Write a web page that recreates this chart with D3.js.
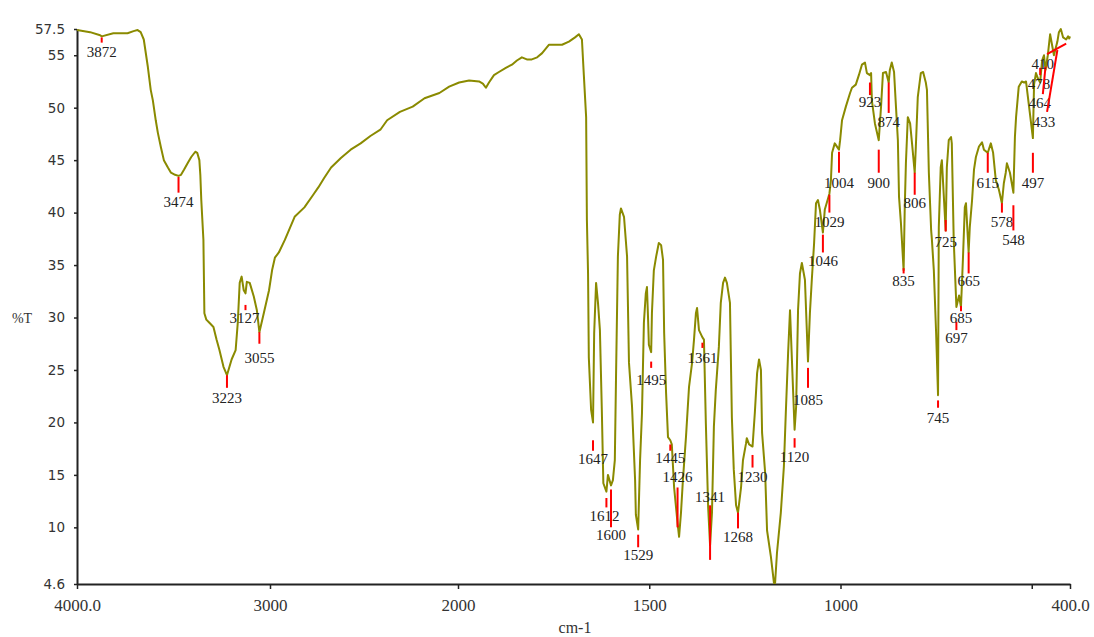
<!DOCTYPE html>
<html><head><meta charset="utf-8">
<script src="https://cdn.jsdelivr.net/npm/d3@7"></script>
<style>body{margin:0;background:#fff}svg{display:block}</style>
</head><body><svg id="c" width="1094" height="637"></svg>
<script>
// Spectrum: wavenumber (cm-1) and %T
const wavenumbers = [
4000,3932,3880,3872,3812,3738,3707,3686,3670,3654,3633,3618,3607,3592,3581,3565,3550,3529,3513,3492,
3474,3461,3445,3424,3408,3387,3377,3366,3361,3356,3345,3340,3330,3314,3293,3277,3262,3241,3223,3199,
3178,3167,3157,3147,3136,3127,3120,3105,3084,3068,3055,3031,3005,2989,2974,2953,2921,2895,2869,2817,
2770,2743,2712,2675,2623,2571,2518,2466,2413,2377,2309,2241,2178,2099,2047,
1997,1971,1945,1935,1927,1919,1906,1893,1875,1859,1846,1833,1820,1807,1793,1780,1762,1744,1728,1710,
1694,1684,1676,1671,1665,1663,1660,1658,1652,1647,1644,1639,1634,1629,1624,1620,1612,1608,1600,1595,
1590,1587,1582,1577,1574,1566,1558,1553,1545,1537,1535,1529,1524,1519,1514,1509,1506,1503,1501,1495,
1493,1488,1482,1475,1469,1464,1461,1456,1451,1445,1441,1435,1426,1422,1417,1412,1404,1396,1388,1383,
1378,1375,1370,1361,1357,1352,1346,1341,1336,1331,1326,1318,1313,1307,1302,1297,1289,1284,1279,1273,
1268,1260,1255,1247,1245,1239,1230,1224,1218,1213,1208,1205,1197,1192,1182,1174,1171,1166,1156,1148,
1143,1137,1132,1130,1120,1116,1111,1106,1101,1093,1085,1080,1075,1069,1064,1059,1054,1046,1041,1029,
1025,1022,1015,1004,1001,996,986,975,970,960,952,944,936,931,923,920,918,910,900,894,
889,881,874,871,866,860,855,850,847,842,835,832,829,824,818,813,806,803,798,790,
784,777,774,769,763,761,756,750,745,743,738,735,725,722,717,711,709,704,697,690,
685,680,675,672,665,662,656,651,646,638,630,625,615,607,601,594,586,578,573,568,
565,557,548,544,541,534,526,520,515,507,497,494,489,484,478,473,468,464,458,452,
447,442,433,429,424,418,410,405,402,400];
const transmittance = [
57.4,57.2,56.9,56.8,57.1,57.1,57.3,57.4,57.2,56.5,53.9,51.7,50.7,48.8,47.6,46.2,45.0,44.3,43.8,43.6,
43.5,43.6,44.1,44.8,45.3,45.8,45.7,45.0,43.6,41.2,37.4,30.4,29.8,29.5,29.1,27.9,26.9,25.3,24.5,26.0,
26.9,29.5,33.3,33.9,32.6,32.3,33.4,33.3,32.0,30.7,28.6,30.5,32.6,34.5,35.7,36.2,37.4,38.5,39.6,40.5,
41.7,42.4,43.3,44.3,45.2,46.0,46.6,47.3,47.9,48.8,49.6,50.1,50.9,51.4,52.0,
52.4,52.6,52.5,52.3,51.9,52.4,53.1,53.4,53.8,54.1,54.5,54.8,54.6,54.6,54.8,55.2,56.0,56.0,56.0,56.3,
56.7,57.0,56.5,53.1,49.1,39.3,34.2,26.2,21.2,20.0,28.5,33.3,31.4,28.8,21.2,14.2,13.4,15.0,14.0,14.5,
16.4,24.0,35.8,39.8,40.4,39.6,35.8,25.7,21.5,14.5,11.2,9.8,16.4,20.9,29.5,32.3,32.9,29.8,27.4,26.7,
30.4,34.5,35.8,37.1,36.9,35.5,28.5,22.8,18.6,18.3,17.9,13.8,10.4,9.1,11.4,14.5,18.6,23.4,25.7,27.9,
30.4,30.9,28.8,28.1,27.9,19.9,11.9,8.3,11.4,19.6,23.1,27.2,31.4,33.3,33.8,33.3,31.4,20.5,15.5,12.1,
11.4,13.8,16.4,18.0,18.5,17.9,17.7,20.9,24.7,26.0,25.0,19.0,15.2,9.7,7.2,4.7,4.7,7.6,11.4,15.8,
20.9,26.6,30.7,28.8,19.3,21.5,30.7,34.2,35.2,33.6,25.8,30.4,33.6,37.1,40.9,41.2,40.3,38.1,40.3,41.8,
43.1,45.7,46.6,46.0,46.9,48.8,50.1,51.4,51.9,52.2,53.1,54.1,54.3,53.3,53.1,53.3,50.7,48.5,46.9,50.1,
53.3,53.4,52.4,53.6,54.3,53.4,50.1,46.9,41.5,39.0,34.5,40.5,44.7,49.1,48.5,46.6,43.8,46.3,51.0,53.3,
53.4,52.4,51.7,43.8,38.3,37.4,34.5,28.5,22.6,38.6,44.3,45.0,38.3,44.3,46.9,47.2,46.6,37.4,31.0,32.1,
31.0,35.5,40.5,40.9,36.2,38.6,41.2,44.1,45.3,46.3,46.7,46.0,45.7,46.6,45.7,43.1,42.2,40.9,42.8,43.8,
44.7,43.8,41.9,47.2,49.1,52.0,52.5,52.4,52.5,50.1,47.1,52.2,53.3,52.8,52.4,54.5,55.0,53.6,55.0,57.0,
56.0,55.0,56.3,57.2,57.5,56.7,56.5,56.8,56.6,56.8];

// Peak annotations (wavenumber, %T where the red mark starts/ends, label anchor)
const peakWn     = [3872,3474,3223,3127,3055,1647,1612,1600,1529,1495,1445,1426,1361,1341,1268,1230,1120,1085,1046,1029,1004,923,900,874,835,806,745,725,697,685,665,615,578,548,497,478,464,433,410];
const peakTipT   = [56.7,43.4,24.5,31.2,28.6,18.3,12.8,13.6,9.3,25.8,17.9,10.0,27.6,6.9,11.4,16.9,18.5,25.2,37.9,41.7,45.8,52.4,46.0,52.4,34.7,43.8,22.1,39.3,29.6,31.1,36.2,45.7,40.9,40.7,45.7,53.8,53.9,55.5,56.1];
const peakBaseWn = [3872,3474,3223,3127,3055,1647,1612,1600,1529,1495,1445,1426,1361,1341,1268,1230,1120,1085,1046,1029,1004,923,900,874,835,806,745,725,697,685,665,615,578,548,497,478,471,460,460];
const peakBaseT  = [56.2,41.9,23.3,30.7,27.5,17.3,11.9,10.0,8.1,25.2,17.3,13.8,27.1,12.1,9.9,15.7,17.6,23.3,36.2,40.0,43.8,51.2,43.8,49.5,34.2,41.7,21.4,38.2,28.8,30.6,34.2,43.8,40.0,38.3,43.8,53.1,51.3,49.6,55.1];
const peakLabelWn= [3872,3474,3223,3132,3055,1647,1617,1600,1529,1495,1445,1426,1361,1341,1268,1230,1120,1085,1046,1029,1004,923,900,874,835,806,745,725,697,685,665,615,578,548,497,481,479,468,471];
const peakLabelT = [55.3,41.0,22.3,30.0,26.1,16.5,11.1,9.3,7.4,24.0,16.6,14.8,26.1,12.9,9.1,14.8,16.7,22.1,35.4,39.1,42.8,50.5,42.8,48.6,33.5,40.9,20.4,37.2,28.0,30.0,33.5,42.8,39.1,37.4,42.8,52.3,50.4,48.6,54.2];

const xTicks = [4000,3000,2000,1500,1000,500,400];
const xTickLabels = ["4000.0","3000","2000","1500","1000","","400.0"];
const yTicks = [57.5,55,50,45,40,35,30,25,20,15,10,4.6];
const yTickLabels = ["57.5","55","50","45","40","35","30","25","20","15","10","4.6"];

const svg = d3.select("#c");
const x = d3.scaleLinear().domain([4000,3000,2000,400]).range([77,270,458,1070]);
const y = d3.scaleLinear().domain([4.6,57.5]).range([584,29]);

// axes
const ya = svg.append("g").attr("transform","translate(77,0)")
  .call(d3.axisLeft(y).tickValues(yTicks).tickSize(3).tickSizeOuter(0).tickPadding(9)
    .tickFormat((d,i)=>yTickLabels[i]));
ya.select(".domain").attr("stroke","#222").attr("stroke-width",2);
ya.selectAll(".tick line").attr("stroke","#222").attr("stroke-width",1.5);
ya.selectAll("text").attr("font-family","'DejaVu Sans',sans-serif").attr("font-size",13.5).attr("fill","#333");

const xa = svg.append("g").attr("transform","translate(0,584)")
  .call(d3.axisBottom(x).tickValues(xTicks).tickSize(5).tickSizeOuter(0).tickPadding(10)
    .tickFormat((d,i)=>xTickLabels[i]));
xa.select(".domain").attr("stroke","#222").attr("stroke-width",2);
xa.selectAll(".tick line").attr("stroke","#222").attr("stroke-width",1.5);
xa.selectAll("text").attr("font-family","'Liberation Serif',serif").attr("font-size",17).attr("fill","#333");

svg.append("text").attr("x",575).attr("y",627).attr("text-anchor","middle").attr("dominant-baseline","central")
  .attr("font-family","'Liberation Serif',serif").attr("font-size",16).attr("fill","#333").text("cm-1");
svg.append("text").attr("x",22).attr("y",318).attr("text-anchor","middle").attr("dominant-baseline","central")
  .attr("font-family","'Liberation Serif',serif").attr("font-size",14).attr("fill","#333").text("%T");

// spectrum
const pts = wavenumbers.map((w,i)=>[w,transmittance[i]]);
svg.append("path").datum(pts)
  .attr("d", d3.line().x(d=>x(d[0])).y(d=>y(d[1])))
  .attr("fill","none").attr("stroke","#8a8a00").attr("stroke-width",2).attr("stroke-linejoin","round");

// peak marks
const pk = svg.append("g");
peakWn.forEach((w,i)=>{
  pk.append("line")
    .attr("x1",x(w)).attr("y1",y(peakTipT[i]))
    .attr("x2",x(peakBaseWn[i])).attr("y2",y(peakBaseT[i]))
    .attr("stroke","#ff0000").attr("stroke-width",2);
  pk.append("text")
    .attr("x",x(peakLabelWn[i])).attr("y",y(peakLabelT[i]))
    .attr("text-anchor","middle").attr("dominant-baseline","central")
    .attr("font-family","'Liberation Serif',serif").attr("font-size",15).attr("fill","#222")
    .text(w);
});
</script></body></html>
